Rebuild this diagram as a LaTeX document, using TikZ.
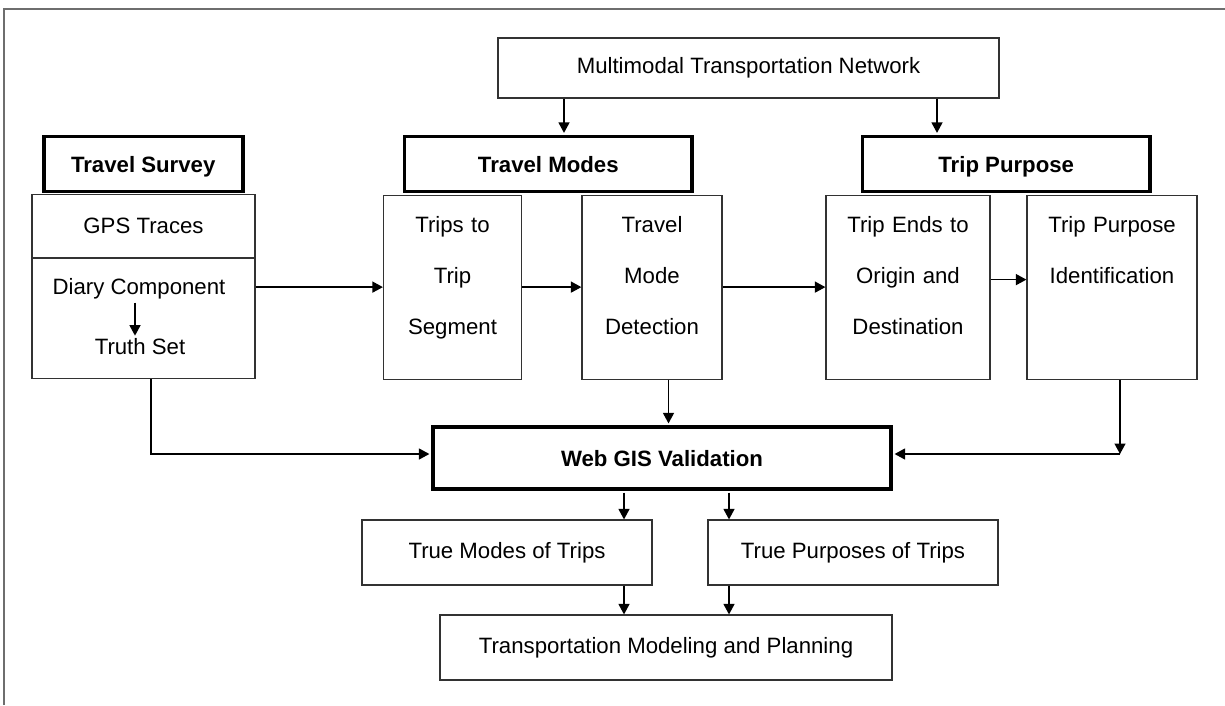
\documentclass[tikz,border=0pt]{standalone}
\usepackage{fontspec}
\setmainfont{Liberation Sans}
\usetikzlibrary{arrows.meta, positioning}
\definecolor{framegray}{RGB}{110,110,110}
\definecolor{linegray}{RGB}{50,50,50}

\begin{document}
\begin{tikzpicture}[x=1pt, y=-1pt,
      box/.style={rectangle, draw=linegray, line width=1.2pt, inner sep=0pt,
                  align=center, font=\fontsize{22.2}{26}\selectfont},
      head/.style={rectangle, draw=black, line width=3.6pt, inner sep=0pt, text depth=0pt,
                   align=center, font=\fontsize{22.2}{26}\selectfont\bfseries},
      tall/.style={box, anchor=north, text height=37.7pt, text depth=146.3pt,
                   font=\fontsize{22.2}{51}\selectfont},
      lbl/.style={inner sep=3pt, font=\fontsize{22.2}{26}\selectfont},
      arr/.style={-{Triangle[length=10.5pt, width=11pt]}, line width=1.4pt, black}
    ]
    \useasboundingbox (0,0) rectangle (1225,705);
    \draw[framegray, line width=1.3pt] (4,705) -- (4,9) -- (1225,9);

    \node[box, minimum width=501pt, minimum height=60pt] (net) at (748.5,68) {Multimodal Transportation Network};

    % survey column
    \node[box, minimum width=223pt, minimum height=63.5pt] (gps) at (143.5,226.25) {GPS Traces};
    \node[box, minimum width=223pt, minimum height=120.5pt] (diary) at (143.5,318.25) {};
    \node[lbl] (dc) at (139,289) {Diary Component};
    \node[lbl] (ts) at (140,347) {Truth Set};

    % mode and purpose steps
    \node[tall, text width=138pt] (trips) at (452.5,194.5) {Trips to\\Trip\\Segment};
    \node[tall, text width=140pt] (tmd) at (652,194.5) {Travel\\Mode\\Detection};
    \node[tall, text width=164pt] (ends) at (908,194.5) {Trip Ends to\\Origin and\\Destination};
    \node[tall, text width=170pt] (tpi) at (1112,194.5) {Trip Purpose\\Identification};

    \node[head, minimum width=199pt, minimum height=55pt] (survey) at (143.2,164) {Travel Survey};
    \node[head, minimum width=287.5pt, minimum height=55pt] (modes) at (548.3,164) {Travel Modes};
    \node[head, minimum width=287.5pt, minimum height=55pt] (purpose) at (1006.2,164) {Trip Purpose};

    \node[head, minimum width=458pt, minimum height=62pt] (gis) at (662,458) {Web GIS Validation};

    \node[box, minimum width=290pt, minimum height=65pt] (truemodes) at (507,552.5) {True Modes of Trips};
    \node[box, minimum width=290pt, minimum height=65pt] (truepurp) at (853,552.5) {True Purposes of Trips};
    \node[box, minimum width=452pt, minimum height=65pt] (plan) at (666,647.5) {Transportation Modeling and Planning};

    \draw[arr] ([xshift=15.7pt]modes.north |- net.south) -- ([xshift=15.7pt,yshift=1.8pt]modes.north);
    \draw[arr] ([xshift=-69.2pt]purpose.north |- net.south) -- ([xshift=-69.2pt,yshift=1.8pt]purpose.north);

    \draw[arr] ([xshift=-4pt]dc.south) -- ([xshift=-4pt]dc.south |- ts.north);
    \draw[arr] (diary.east |- trips.west) -- (trips.west);
    \draw[arr] (trips.east) -- (tmd.west);
    \draw[arr] (tmd.east) -- (ends.west);
    \draw[arr] ([yshift=7.5pt]ends.east) -- ([yshift=7.5pt]tpi.west);

    \draw[arr] ([xshift=7.5pt]diary.south) |- ([yshift=4pt,xshift=-1.8pt]gis.west);
    \draw[arr] ([xshift=16.5pt]tmd.south) -- ([xshift=16.5pt,yshift=1.8pt]tmd.south |- gis.north);
    \path ([xshift=8pt]tpi.south |- gis.east) ++(0,-4) coordinate (turn);
    \draw[arr] ([xshift=8pt]tpi.south) -- (turn);
    \draw[arr] (turn) -- ([xshift=1.8pt]turn -| gis.east);

    \draw[arr] ([xshift=-38pt,yshift=-1.8pt]gis.south) -- ([xshift=-38pt]gis.south |- truemodes.north);
    \draw[arr] ([xshift=67pt,yshift=-1.8pt]gis.south) -- ([xshift=67pt]gis.south |- truepurp.north);
    \draw[arr] ([xshift=-38pt]gis.south |- truemodes.south) -- ([xshift=-38pt]gis.south |- plan.north);
    \draw[arr] ([xshift=67pt]gis.south |- truepurp.south) -- ([xshift=67pt]gis.south |- plan.north);
\end{tikzpicture}
\end{document}
